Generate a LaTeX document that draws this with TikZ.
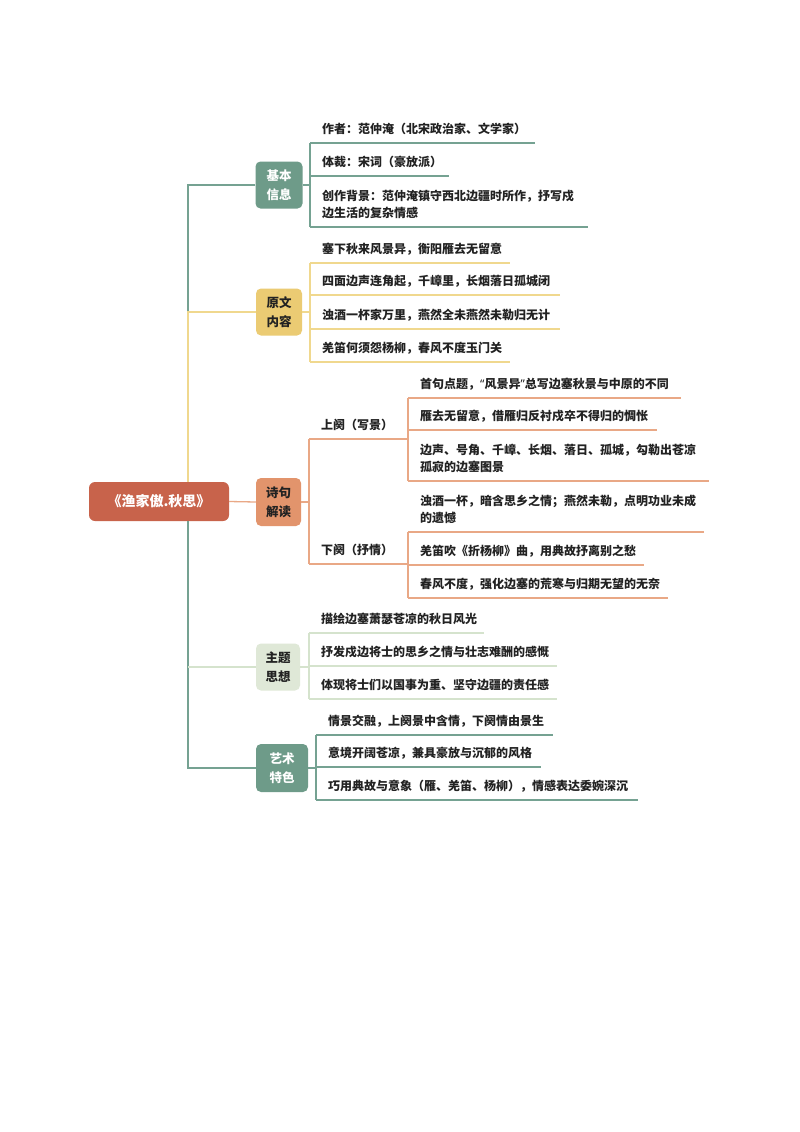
\documentclass[tikz,border=0pt]{standalone}
\usepackage{fontspec}
\setmainfont{Noto Sans CJK SC}
\newfontfamily\qfont{Noto Sans}
\definecolor{tealc}{HTML}{6E9B89}
\definecolor{tealline}{HTML}{75A292}
\definecolor{yelc}{HTML}{EBCB73}
\definecolor{yelline}{HTML}{F0D88E}
\definecolor{orac}{HTML}{E2946C}
\definecolor{oraline}{HTML}{E9A886}
\definecolor{grnc}{HTML}{DFE8D7}
\definecolor{grnline}{HTML}{D5E3CD}
\definecolor{mainc}{HTML}{C8634B}
\definecolor{txt}{HTML}{222222}
\newcommand{\leaffont}{\fontsize{12}{17}\selectfont\bfseries}
\tikzset{
  rootbox/.style={fill=mainc, rounded corners=6pt, text=white, inner sep=0pt,
    font=\fontsize{14}{16}\selectfont\bfseries, minimum width=140pt, minimum height=39pt},
  catbox/.style={rounded corners=5pt, align=center, inner sep=0pt,
    font=\fontsize{12.5}{19}\selectfont\bfseries},
  leafbox/.style={anchor=south west, align=left, inner xsep=12pt, inner ysep=4.4pt,
    font=\leaffont, text=txt, execute at end node=\strut},
  tline/.style={draw=tealline, line width=1.3pt},
  yline/.style={draw=yelline, line width=1.3pt},
  oline/.style={draw=oraline, line width=1.3pt},
  gline/.style={draw=grnline, line width=1.3pt},
}
\begin{document}
\begin{tikzpicture}[x=1pt,y=-1pt]
\fill[white] (0,0) rectangle (800,1132);
\useasboundingbox (0,0) rectangle (800,1132);

% root and categories
\node[rootbox] (root) at (159,501.5) {《渔家傲.秋思》};
\coordinate (trunk) at (188,501.5);
\node[catbox, fill=tealc, text=white, minimum width=47pt, minimum height=47pt] (jb) at (279,185) {基本\\信息};
\node[catbox, fill=yelc, text=txt, minimum width=46pt, minimum height=47pt] (yw) at (279,312) {原文\\内容};
\node[catbox, fill=orac, text=txt, minimum width=45pt, minimum height=48pt] (sj) at (278.5,502) {诗句\\解读};
\node[catbox, fill=grnc, text=txt, minimum width=44pt, minimum height=47pt] (zt) at (278,667) {主题\\思想};
\node[catbox, fill=tealc, text=white, minimum width=52pt, minimum height=48pt] (ys) at (282,768) {艺术\\特色};

% trunk connectors
\draw[tline] (jb.west) -| (yw.west -| trunk);
\draw[yline] (yw.west) -| (root.north -| trunk);
\draw[tline] (ys.west) -| (root.south -| trunk);
\draw[gline] (zt.west) -- (zt.west -| trunk);
\draw[oline] (root.east) -- (sj.west);

% 基本信息
\node[leafbox, text width=201pt] (a1) at (310,143) {作者：范仲淹（北宋政治家、文学家）};
\node[leafbox, text width=115pt] (a2) at (310,176) {体裁：宋词（豪放派）};
\node[leafbox, text width=254pt] (a3) at (310,227) {创作背景：范仲淹镇守西北边疆时所作，抒写戍\\边生活的复杂情感};
\draw[tline] (jb.east) -- (jb.east -| a1.south west);
\draw[tline] (a1.south west) -- (a3.south west);
\foreach \n in {a1,a2,a3} \draw[tline] (\n.south west) -- (\n.south east);

% 原文内容
\node[leafbox, text width=176pt] (b1) at (310,263) {塞下秋来风景异，衡阳雁去无留意};
\node[leafbox, text width=226pt] (b2) at (310,295) {四面边声连角起，千嶂里，长烟落日孤城闭};
\node[leafbox, text width=226pt] (b3) at (310,329) {浊酒一杯家万里，燕然全未燕然未勒归无计};
\node[leafbox, text width=176pt] (b4) at (310,362) {羌笛何须怨杨柳，春风不度玉门关};
\draw[yline] (yw.east) -- (yw.east -| b1.south west);
\draw[yline] (b1.south west) -- (b4.south west);
\foreach \n in {b1,b2,b3,b4} \draw[yline] (\n.south west) -- (\n.south east);

% 诗句解读
\node[leafbox, text width=75pt] (s1) at (309,439) {上阕（写景）};
\node[leafbox, text width=75pt] (s2) at (309,564) {下阕（抒情）};
\draw[oline] (sj.east) -- (sj.east -| s1.south west);
\draw[oline] (s1.south west) -- (s2.south west);
\foreach \n in {s1,s2} \draw[oline] (\n.south west) -- (\n.south east);

\node[leafbox, text width=249pt] (c1) at (408,398) {首句点题，{\qfont “}风景异{\qfont ”}总写边塞秋景与中原的不同};
\node[leafbox, text width=225pt] (c2) at (408,430) {雁去无留意，借雁归反衬戍卒不得归的惆怅};
\node[leafbox, text width=277pt] (c3) at (408,481) {边声、号角、千嶂、长烟、落日、孤城，勾勒出苍凉\\孤寂的边塞图景};
\draw[oline] (c1.south west) -- (c3.south west);
\foreach \n in {c1,c2,c3} \draw[oline] (\n.south west) -- (\n.south east);

\node[leafbox, text width=272pt] (d1) at (408,532) {浊酒一杯，暗含思乡之情；燕然未勒，点明功业未成\\的遗憾};
\node[leafbox, text width=212pt] (d2) at (408,565) {羌笛吹《折杨柳》曲，用典故抒离别之愁};
\node[leafbox, text width=236pt] (d3) at (408,598) {春风不度，强化边塞的荒寒与归期无望的无奈};
\draw[oline] (d1.south west) -- (d3.south west);
\foreach \n in {d1,d2,d3} \draw[oline] (\n.south west) -- (\n.south east);

% 主题思想
\node[leafbox, text width=151pt] (e1) at (309,633) {描绘边塞萧瑟苍凉的秋日风光};
\node[leafbox, text width=224pt] (e2) at (309,666) {抒发戍边将士的思乡之情与壮志难酬的感慨};
\node[leafbox, text width=224pt] (e3) at (309,699) {体现将士们以国事为重、坚守边疆的责任感};
\draw[gline] (zt.east) -- (zt.east -| e1.south west);
\draw[gline] (e1.south west) -- (e3.south west);
\foreach \n in {e1,e2,e3} \draw[gline] (\n.south west) -- (\n.south east);

% 艺术特色
\node[leafbox, text width=213pt] (f1) at (316,735) {情景交融，上阕景中含情，下阕情由景生};
\node[leafbox, text width=201pt] (f2) at (316,767) {意境开阔苍凉，兼具豪放与沉郁的风格};
\node[leafbox, text width=298pt] (f3) at (316,800) {巧用典故与意象（雁、羌笛、杨柳），情感表达委婉深沉};
\draw[tline] (ys.east) -- (ys.east -| f1.south west);
\draw[tline] (f1.south west) -- (f3.south west);
\foreach \n in {f1,f2,f3} \draw[tline] (\n.south west) -- (\n.south east);
\end{tikzpicture}
\end{document}
